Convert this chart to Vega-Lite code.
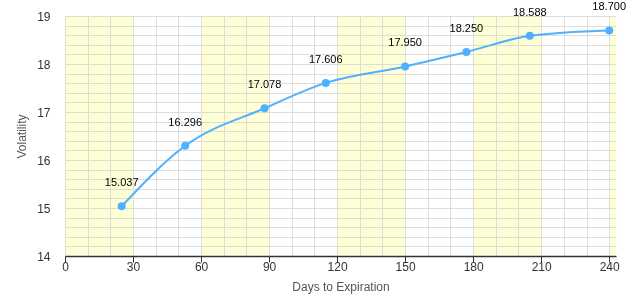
{
  "$schema": "https://vega.github.io/schema/vega-lite/v6.json",
  "width": 551,
  "height": 240,
  "autosize": "none",
  "padding": {"left": 65, "top": 16, "right": 21, "bottom": 41},
  "config": {"view": {"stroke": null}, "font": "Liberation Sans"},
  "datasets": {
    "bands": [
      {"days": 0, "end": 30},
      {"days": 60, "end": 90},
      {"days": 120, "end": 150},
      {"days": 180, "end": 210},
      {"days": 240, "end": 243}
    ],
    "curve": [
      {"days": 25, "vol": 15.037},
      {"days": 53, "vol": 16.296},
      {"days": 88, "vol": 17.078},
      {"days": 115, "vol": 17.606},
      {"days": 150, "vol": 17.95},
      {"days": 177, "vol": 18.25},
      {"days": 205, "vol": 18.588},
      {"days": 240, "vol": 18.7}
    ]
  },
  "encoding": {
    "x": {
      "field": "days",
      "type": "quantitative",
      "scale": {"domain": [0, 243], "nice": false, "zero": false},
      "axis": {
        "values": [0, 10, 20, 30, 40, 50, 60, 70, 80, 90, 100, 110, 120, 130, 140, 150, 160, 170, 180, 190, 200, 210, 220, 230, 240],
        "labelExpr": "datum.value % 30 === 0 ? format(datum.value, 'd') : ''",
        "labelOverlap": false,
        "labelSeparation": 0,
        "labelFontSize": 12,
        "labelColor": "#333333",
        "labelPadding": -1,
        "labelFlush": false,
        "tickSize": 6,
        "tickColor": "#333333",
        "tickOpacity": {"condition": {"test": "datum.value % 30 === 0", "value": 1}, "value": 0},
        "domainColor": "#333333",
        "domainWidth": 1.5,
        "grid": true,
        "gridColor": "#dddddd",
        "gridWidth": 1,
        "title": "Days to Expiration",
        "titleFontSize": 12,
        "titleFontWeight": "normal",
        "titleColor": "#555555",
        "titlePadding": 9
      }
    }
  },
  "layer": [
    {
      "data": {"name": "bands"},
      "mark": {"type": "rect", "color": "#ffffd6", "blend": "darken"},
      "encoding": {
        "x2": {"field": "end"}
      }
    },
    {
      "data": {"name": "curve"},
      "encoding": {
        "y": {
          "field": "vol",
          "type": "quantitative",
          "scale": {"domain": [14, 19], "nice": false, "zero": false},
          "axis": {
            "values": [14, 14.2, 14.4, 14.6, 14.8, 15, 15.2, 15.4, 15.6, 15.8, 16, 16.2, 16.4, 16.6, 16.8, 17, 17.2, 17.4, 17.6, 17.8, 18, 18.2, 18.4, 18.6, 18.8, 19],
            "labelExpr": "abs(datum.value - round(datum.value)) < 0.001 ? format(datum.value, 'd') : ''",
            "labelOverlap": false,
            "labelFontSize": 12,
            "labelColor": "#333333",
            "labelPadding": 15,
            "labelFlush": false,
            "ticks": false,
            "domain": false,
            "grid": true,
            "gridColor": "#dddddd",
            "gridWidth": 1,
            "title": "Volatility",
            "titleFontSize": 12,
            "titleFontWeight": "normal",
            "titleColor": "#555555",
            "titlePadding": 8
          }
        }
      },
      "layer": [
        {"mark": {"type": "line", "interpolate": "monotone", "color": "#4db1ff", "strokeWidth": 2}},
        {"mark": {"type": "point", "filled": true, "opacity": 1, "color": "#4db1ff", "size": 64}},
        {"mark": {"type": "text", "dy": -23, "fontSize": 11, "color": "#000000"}, "encoding": {"text": {"field": "vol", "type": "quantitative", "format": ".3f"}}}
      ]
    }
  ]
}
